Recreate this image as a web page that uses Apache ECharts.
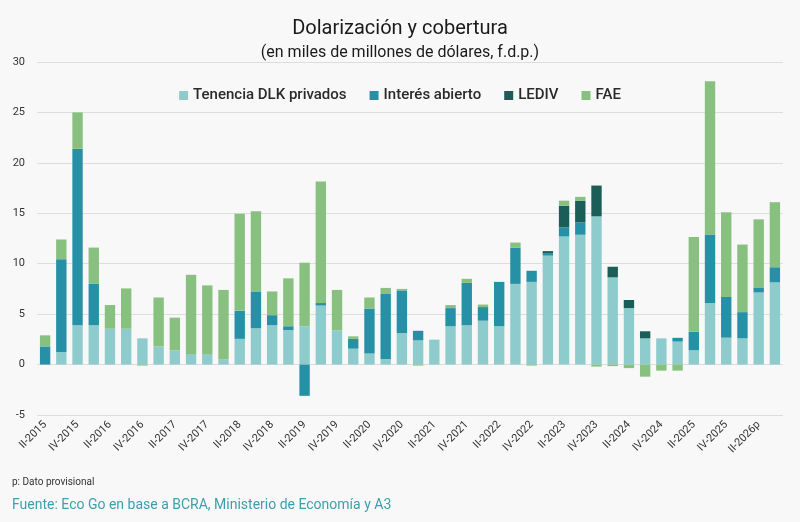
<!DOCTYPE html>
<html>
<head>
<meta charset="utf-8">
<script src="https://cdn.jsdelivr.net/npm/echarts@6/dist/echarts.min.js"></script>
<style>
  html, body { margin: 0; padding: 0; background: #f8f8f8; }
  #chart { width: 800px; height: 522px; }
</style>
</head>
<body>
<div id="chart"></div>
<script>
// trimestres, II-2015 en adelante
const quarters = [
    'II-2015', 'III-2015', 'IV-2015', 'I-2016', 'II-2016', 'III-2016', 'IV-2016', 'I-2017',
    'II-2017', 'III-2017', 'IV-2017', 'I-2018', 'II-2018', 'III-2018', 'IV-2018', 'I-2019',
    'II-2019', 'III-2019', 'IV-2019', 'I-2020', 'II-2020', 'III-2020', 'IV-2020', 'I-2021',
    'II-2021', 'III-2021', 'IV-2021', 'I-2022', 'II-2022', 'III-2022', 'IV-2022', 'I-2023',
    'II-2023', 'III-2023', 'IV-2023', 'I-2024', 'II-2024', 'III-2024', 'IV-2024', 'I-2025',
    'II-2025', 'III-2025', 'IV-2025', 'I-2026', 'II-2026p', 'III-2026p'
];
const tenencia = [
    0, 1.25, 3.9, 3.9, 3.55, 3.55, 2.6, 1.8,
    1.4, 1.05, 1.05, 0.5, 2.55, 3.6, 3.9, 3.43,
    3.8, 5.85, 3.4, 1.58, 1.1, 0.55, 3.13, 2.4,
    2.47, 3.8, 3.9, 4.35, 3.8, 8.0, 8.2, 10.8,
    12.7, 12.87, 14.7, 8.65, 5.6, 2.6, 2.6, 2.28,
    1.42, 6.1, 2.67, 2.6, 7.15, 8.15
];
const interes = [
    1.8, 9.2, 17.5, 4.1, 0, 0, 0, 0,
    0, 0, 0, 0, 2.8, 3.65, 1.0, 0.37,
    -3.1, 0.25, 0, 0.97, 4.45, 6.45, 4.22, 0.95,
    0, 1.8, 4.2, 1.35, 4.4, 3.6, 1.1, 0.2,
    0.9, 1.23, 0, 0, 0, 0, 0, 0.37,
    1.85, 6.8, 4.03, 2.6, 0.5, 1.5
];
const lediv = [
    0, 0, 0, 0, 0, 0, 0, 0,
    0, 0, 0, 0, 0, 0, 0, 0,
    0, 0, 0, 0, 0, 0, 0, 0,
    0, 0, 0, 0, 0, 0, 0, 0.25,
    2.15, 2.15, 3.05, 1.05, 0.8, 0.7, 0, 0,
    0, 0, 0, 0, 0, 0
];
const fae = [
    1.1, 1.95, 3.6, 3.6, 2.35, 4.0, -0.1, 4.85,
    3.25, 7.85, 6.8, 6.9, 9.6, 7.95, 2.35, 4.75,
    6.3, 12.05, 4.0, 0.25, 1.1, 0.6, 0.15, -0.1,
    0, 0.3, 0.4, 0.25, 0, 0.5, -0.1, 0,
    0.5, 0.38, -0.2, -0.15, -0.35, -1.2, -0.6, -0.6,
    9.38, 15.2, 8.4, 6.7, 6.75, 6.45
];

const names = ['Tenencia DLK privados', 'Interés abierto', 'LEDIV', 'FAE'];
const colors = ['#8ecbcc', '#2690a6', '#1b5e58', '#88c07f'];
const values = [tenencia, interes, lediv, fae];

const chart = echarts.init(document.querySelector('#chart'));
chart.setOption({
    backgroundColor: '#f8f8f8',
    textStyle: { fontFamily: 'Roboto' },
    title: {
        text: 'Dolarización y cobertura',
        subtext: '(en miles de millones de dólares, f.d.p.)',
        left: 'center',
        top: 14,
        itemGap: 6,
        textStyle: { fontSize: 20, fontWeight: 'normal', color: '#1a1a1a' },
        subtextStyle: { fontSize: 16, color: '#1a1a1a' }
    },
    legend: {
        top: 83,
        left: 'center',
        icon: 'rect',
        itemWidth: 9,
        itemHeight: 9,
        itemGap: 23,
        textStyle: { fontSize: 15, fontWeight: 500, color: '#2a2a2a' },
        data: names
    },
    grid: {
        left: 37,
        right: 17,
        top: 62,
        bottom: 107
    },
    xAxis: {
        type: 'category',
        data: quarters,
        axisTick: { show: false },
        axisLine: { show: false },
        axisLabel: {
            interval: 1,
            rotate: 45,
            fontSize: 11,
            color: '#333',
            margin: 8
        }
    },
    yAxis: {
        type: 'value',
        min: -5,
        max: 30,
        interval: 5,
        axisLabel: { fontSize: 11, color: '#333', margin: 12 },
        splitLine: { lineStyle: { color: '#dddddd' } }
    },
    series: names.map(function (n, i) {
        return {
            name: n,
            type: 'bar',
            stack: 'total',
            barWidth: '64%',
            itemStyle: { color: colors[i] },
            data: values[i]
        };
    }),
    graphic: [
        {
            type: 'text',
            left: 12,
            top: 477,
            style: { text: 'p: Dato provisional', fontSize: 10, fill: '#333', fontFamily: 'Roboto' }
        },
        {
            type: 'text',
            left: 12,
            top: 498,
            style: {
                text: 'Fuente: Eco Go en base a BCRA, Ministerio de Economía y A3',
                fontSize: 14,
                fill: '#3b9fae',
                fontFamily: 'Roboto'
            }
        }
    ]
});
</script>
</body>
</html>
